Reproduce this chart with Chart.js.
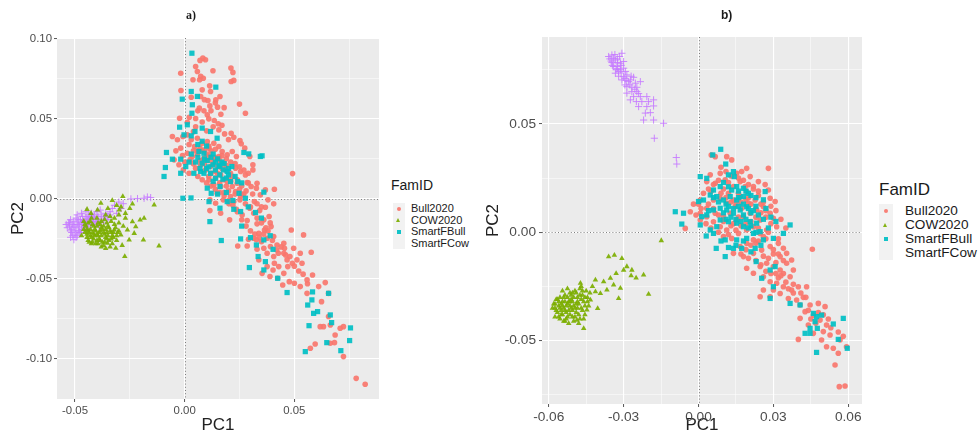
<!DOCTYPE html>
<html>
<head>
<meta charset="utf-8">
<script src="https://cdn.jsdelivr.net/npm/chart.js@4.4.1/dist/chart.umd.min.js"></script>
<style>
  html, body { margin: 0; padding: 0; background: #fff; }
  body { width: 979px; height: 434px; position: relative; overflow: hidden; font-family: "Liberation Sans", Arial, sans-serif; color: #1a1a1a; }
  canvas { position: absolute; top: 0; }
  .abs { position: absolute; white-space: nowrap; line-height: 1; }
  .keybg { position: absolute; background: #f2f2f2; }
  .dot { position: absolute; border-radius: 50%; }
  .sq { position: absolute; }
  .tri { position: absolute; width: 0; height: 0; border-left: 2.6px solid transparent; border-right: 2.6px solid transparent; }
</style>
</head>
<body>
<canvas id="chartA" width="385" height="434" style="left:0"></canvas>
<canvas id="chartB" width="390" height="434" style="left:480px"></canvas>

<div class="abs" style="left:186px; top:8px; font: bold 12px 'Liberation Serif', serif;">a)</div>
<div class="abs" style="left:721px; top:9px; font-weight: bold; font-size: 12px;">b)</div>

<div id="legendA"></div>
<div id="legendB"></div>

<script>
// ---- data ----
const famIds = ["Bull2020", "COW2020", "SmartFBull", "SmartFCow"];

// panel a) : [PC1, PC2]
const aBull = [[.0070,.0865],[.0083,.0879],[.0095,.0869],[.0050,.0827],[.0058,.0796],[.0073,.0765],[.0085,.0754],[.0068,.0744],[.0129,.0800],[.0211,.0817],[.0220,.0790],[.0212,.0733],[.0224,.0740],[-.0018,.0785],[.0038,.0744],[.0080,.0681],[.0114,.0706],[-.0017,.0677],[.0118,.0671],[.0030,.0635],[.0073,.0640],[.0161,.0640],[.0142,.0619],[.0250,.0592],[.0277,.0535],[.0106,.0615],[.0115,.0581],[.0067,.0567],[.0088,.0550],[.0150,.0573],[.0165,.0529],[.0103,.0525],[.0135,.0490],[.0021,.0510],[.0050,.0502],[-.0023,.0504],[.0012,.0479],[.0100,.0425],[.0153,.0469],[.0156,.0431],[.0212,.0410],[.0224,.0385],[.0182,.0406],[.0252,.0365],[.0258,.0344],[.0274,.0317],[-.0056,.0390],[-.0033,.0369],[-.0008,.0390],[.0012,.0400],[.0030,.0369],[.0058,.0379],[.0080,.0348],[.0103,.0358],[.0133,.0348],[.0045,.0327],[.0070,.0317],[.0091,.0306],[.0111,.0317],[.0156,.0327],[.0171,.0296],[.0194,.0275],[.0217,.0296],[.0236,.0265],[-.0018,.0317],[.0012,.0285],[.0035,.0265],[.0058,.0281],[.0088,.0254],[.0111,.0269],[.0133,.0244],[.0156,.0265],[.0179,.0223],[-.0048,.0244],[-.0026,.0213],[-.0006,.0181],[.0020,.0160],[.0050,.0192],[.0073,.0213],[.0095,.0181],[.0118,.0202],[.0141,.0171],[.0164,.0150],[.0186,.0181],[.0209,.0160],[.0232,.0192],[.0255,.0171],[.0277,.0150],[.0311,.0213],[.0297,.0265],[.0311,.0181],[.0492,.0158],[.0330,.0098],[.0327,.0067],[.0368,.0056],[.0409,.0060],[.0345,.0025],[.0285,.0102],[.0303,.0077],[.0111,.0119],[.0133,.0088],[.0164,.0077],[.0194,.0108],[.0217,.0077],[.0239,.0098],[.0148,.0035],[.0179,.0040],[.0209,.0015],[.0232,.0046],[.0255,.0015],[.0115,-.0006],[.0141,-.0027],[.0176,-.0006],[.0202,-.0031],[.0224,-.0017],[.0252,-.0006],[.0277,-.0031],[.0297,-.0058],[.0318,-.0017],[.0380,-.0006],[.0406,-.0031],[.0115,-.0073],[.0164,-.0090],[.0205,-.0131],[.0236,-.0065],[.0262,-.0100],[.0285,-.0135],[.0315,-.0090],[.0342,-.0073],[.0368,-.0052],[.0385,-.0110],[.0361,-.0131],[.0330,-.0156],[.0394,-.0173],[.0364,-.0194],[.0338,-.0215],[.0315,-.0246],[.0285,-.0294],[.0242,-.0294],[.0291,-.0252],[.0327,-.0256],[.0350,-.0267],[.0376,-.0246],[.0406,-.0235],[.0421,-.0288],[.0391,-.0298],[.0361,-.0308],[.0330,-.0315],[.0376,-.0340],[.0406,-.0360],[.0427,-.0340],[.0452,-.0277],[.0455,-.0308],[.0452,-.0340],[.0486,-.0194],[.0542,-.0225],[.0497,-.0308],[.0527,-.0340],[.0577,-.0333],[.0467,-.0381],[.0491,-.0402],[.0512,-.0381],[.0535,-.0402],[.0409,-.0402],[.0376,-.0423],[.0403,-.0444],[.0429,-.0423],[.0452,-.0465],[.0470,-.0423],[.0353,-.0465],[.0389,-.0485],[.0424,-.0496],[.0447,-.0538],[.0477,-.0517],[.0500,-.0527],[.0527,-.0548],[.0558,-.0506],[.0583,-.0475],[.0641,-.0523],[.0611,-.0548],[.0624,-.0642],[.0656,-.0590],[.0558,-.0590],[.0656,-.0735],[.0618,-.0798],[.0633,-.0798],[.0664,-.0788],[.0709,-.0808],[.0724,-.0798],[.0686,-.0850],[.0664,-.0902],[.0683,-.0898],[.0595,-.0906],[.0573,-.0933],[.0724,-.0985],[.0782,-.1121],[.0823,-.1158],[.0338,-.0381],[.0100,.0280],[.0120,.0300],[.0140,.0260],[.0160,.0240],[.0130,.0220],[.0150,.0200],[.0170,.0190],[.0190,.0210],[.0110,.0240],[.0090,.0220],[.0070,.0240],[.0060,.0300],[.0040,.0220],[.0025,.0245],[.0180,.0120],[.0200,.0130],[.0220,.0140],[.0240,.0120],[.0260,.0080],[.0280,.0050],[.0200,.0050],[.0160,.0100],[.0140,.0130],[.0120,.0160],[.0230,.0030],[.0260,.0030],
    [.0020,.0340],[.0040,.0300],[.0080,.0300],[.0110,.0330],[.0140,.0310],[.0170,.0270],[.0190,.0250],[.0210,.0230],[.0230,.0220],[.0250,.0200],[.0270,.0180],[.0290,.0160],[.0060,.0140],[.0080,.0120],[.0100,.0100],[.0120,.0080],[.0140,.0060],[.0160,.0040],[.0180,.0020],[.0200,-.0010],[.0220,-.0040],[.0240,-.0080],[.0260,-.0130],[.0280,-.0170],[.0300,-.0200],[.0320,-.0220],[.0340,-.0240],[.0360,-.0220],[.0380,-.0200],[.0400,-.0260],[.0420,-.0320],[.0440,-.0300],[.0460,-.0350],[.0480,-.0360],[.0500,-.0420],[.0520,-.0450],[.0540,-.0470],[.0560,-.0530],[.0300,-.0050],[.0330,-.0030],[.0350,-.0050],[.0310,.0030],[.0290,.0100],[.0050,.0450],[.0080,.0480],[.0110,.0500],[.0130,.0450],[.0170,.0460],[.0200,.0370],[.0060,.0550],[.0120,.0550],[.0140,.0600],[.0090,.0620],[.0180,.0570],[.0040,.0420],[-.0010,.0270],[-.0040,.0300],[.0000,.0230],[.0150,.0160],[.0110,.0140],[.0190,.0080],[.0210,.0110],[.0250,.0060],[.0270,.0030],[.0330,-.0120],[.0350,-.0150],[.0370,-.0180],[.0390,-.0150]];
const aCow = [[-.0282,.0015],[-.0330,-.0010],[-.0238,-.0031],[-.0139,-.0038],[-.0298,-.0069],[-.0185,-.0121],[-.0203,-.0131],[-.0238,-.0142],[-.0117,-.0294],[-.0188,-.0256],[-.0273,-.0360],[-.0314,-.0308],[-.0352,-.0277],[-.0230,-.0215],[-.0223,-.0173],[-.0261,-.0194],[-.0291,-.0225],[-.0321,-.0194],[-.0253,-.0256],[-.0445,-.0065],[-.0427,-.0090],[-.0382,-.0027],[-.0397,-.0069],[-.0300,-.0150],[-.0270,-.0120],[-.0310,-.0260],[-.0285,-.0290],[-.0340,-.0300],[-.0360,-.0310],[-.0380,-.0300],[-.0460,-.0140],[-.0450,-.0170],[-.0440,-.0200],[-.0430,-.0230],[-.0420,-.0160],[-.0410,-.0190],[-.0400,-.0220],[-.0390,-.0250],[-.0380,-.0180],[-.0370,-.0210],[-.0360,-.0240],[-.0350,-.0170],[-.0340,-.0200],[-.0330,-.0230],[-.0320,-.0160],[-.0455,-.0210],[-.0445,-.0240],[-.0435,-.0270],[-.0425,-.0120],[-.0415,-.0250],[-.0405,-.0280],[-.0395,-.0150],[-.0385,-.0200],[-.0375,-.0270],[-.0365,-.0130],[-.0355,-.0210],[-.0345,-.0260],[-.0335,-.0140],[-.0325,-.0210],[-.0315,-.0180],[-.0420,-.0210],[-.0400,-.0170],[-.0380,-.0230],[-.0360,-.0190],[-.0430,-.0190],[-.0410,-.0230],[-.0390,-.0210],[-.0370,-.0170],[-.0350,-.0230],[-.0440,-.0150],[-.0400,-.0260],[-.0460,-.0190],[-.0470,-.0230],[-.0380,-.0140],[-.0340,-.0110],[-.0360,-.0100],[-.0320,-.0120],[-.0300,-.0100],[-.0310,-.0040],[-.0350,-.0060],[-.0290,-.0050],[-.0270,-.0090],[-.0250,-.0060],[-.0420,-.0270],[-.0440,-.0260],[-.0370,-.0290],[-.0330,-.0280],[-.0310,-.0230],[-.0300,-.0200],[-.0280,-.0170],
    [-.0455,-.0160],[-.0445,-.0190],[-.0435,-.0210],[-.0425,-.0240],[-.0415,-.0170],[-.0405,-.0200],[-.0395,-.0230],[-.0385,-.0260],[-.0375,-.0190],[-.0365,-.0220],[-.0355,-.0250],[-.0345,-.0180],[-.0335,-.0210],[-.0325,-.0240],[-.0425,-.0280],[-.0395,-.0280],[-.0365,-.0270],[-.0335,-.0250],[-.0305,-.0210],[-.0445,-.0220],[-.0415,-.0220],[-.0385,-.0160],[-.0355,-.0150],[-.0430,-.0140],[-.0400,-.0120]];
const aSmartBull = [[.0033,.0910],[.0030,.0671],[-.0011,.0623],[.0035,.0588],[.0058,.0640],[.0142,.0698],[.0033,.0535],[-.0023,.0448],[.0012,.0463],[.0080,.0442],[-.0003,.0400],[.0030,.0394],[.0047,.0421],[.0118,.0421],[.0148,.0379],[-.0083,.0290],[-.0056,.0248],[-.0088,.0196],[-.0094,.0140],[-.0018,.0248],[.0005,.0202],[-.0018,.0160],[.0065,.0296],[.0088,.0285],[.0080,.0223],[.0103,.0240],[.0129,.0213],[.0156,.0202],[.0176,.0181],[.0194,.0171],[.0215,.0202],[.0118,.0160],[.0088,.0160],[.0141,.0129],[.0174,.0123],[.0209,.0108],[.0242,.0108],[.0270,.0290],[.0292,.0281],[.0345,.0265],[.0353,.0269],[.0042,.0160],[.0073,.0171],[-.0008,.0004],[.0029,.0006],[.0103,.0067],[.0121,.0035],[.0161,.0077],[.0111,-.0017],[.0161,-.0058],[.0194,-.0017],[.0224,-.0065],[.0255,-.0079],[.0277,.0004],[.0248,.0035],[.0361,.0042],[.0323,-.0085],[.0115,-.0142],[.0167,-.0260],[.0255,-.0250],[.0300,-.0242],[.0327,-.0288],[.0361,-.0256],[.0335,-.0360],[.0368,-.0392],[.0295,-.0429],[.0403,-.0315],[.0361,-.0444],[.0424,-.0496],[.0467,-.0585],[.0583,-.0581],[.0561,-.0663],[.0580,-.0631],[.0588,-.0715],[.0606,-.0704],[.0656,-.0590],[.0664,-.0725],[.0567,-.0792],[.0670,-.0773],[.0756,-.0806],[.0752,-.0885],[.0648,-.0898],[.0550,-.0954],[.0712,-.0948],[.0150,.0250],[.0170,.0230],[.0130,.0280],[.0100,.0190],[.0200,.0150],[.0060,.0260],
    [.0120,.0260],[.0140,.0230],[.0160,.0210],[.0180,.0220],[.0200,.0190],[.0110,.0200],[.0090,.0250],[.0070,.0190],[.0050,.0230],[.0030,.0280],[.0020,.0230],[.0160,.0150],[.0130,.0110],[.0190,.0130],[.0230,.0140],[.0260,.0100],[.0140,.0180],[.0080,.0360],[.0100,.0330],[.0060,.0340],[.0150,.0030],[.0190,.0040],[.0220,-.0010],[.0290,-.0050],[.0350,-.0120],[.0390,-.0230],[.0260,-.0170]];
const aSmartCow = [[-.0530,-.0150],[-.0525,-.0170],[-.0520,-.0130],[-.0515,-.0190],[-.0510,-.0160],[-.0505,-.0140],[-.0500,-.0180],[-.0495,-.0120],[-.0490,-.0150],[-.0485,-.0200],[-.0480,-.0170],[-.0475,-.0130],[-.0470,-.0150],[-.0465,-.0110],[-.0460,-.0180],[-.0455,-.0140],[-.0450,-.0120],[-.0445,-.0160],[-.0440,-.0100],[-.0435,-.0130],[-.0430,-.0150],[-.0425,-.0090],[-.0420,-.0120],[-.0415,-.0140],[-.0410,-.0100],[-.0405,-.0130],[-.0400,-.0080],[-.0395,-.0110],[-.0390,-.0140],[-.0385,-.0070],[-.0380,-.0100],[-.0370,-.0120],[-.0360,-.0090],[-.0350,-.0110],[-.0340,-.0080],[-.0500,-.0220],[-.0495,-.0240],[-.0480,-.0210],[-.0520,-.0200],[-.0510,-.0230],[-.0470,-.0190],[-.0460,-.0160],[-.0450,-.0190],[-.0440,-.0170],[-.0430,-.0120],[-.0410,-.0160],[-.0390,-.0170],[-.0370,-.0150],[-.0350,-.0130],[-.0330,-.0060],[-.0320,-.0040],[-.0300,-.0020],[-.0290,-.0060],[-.0245,.0000],[-.0215,.0002],[-.0185,.0004],[-.0170,.0012],[-.0155,.0008],[-.0310,-.0090],[-.0280,-.0030],[-.0490,-.0100],[-.0470,-.0090],[-.0450,-.0080],[-.0505,-.0255],[-.0485,-.0130],
    [-.0535,-.0180],[-.0525,-.0150],[-.0515,-.0210],[-.0505,-.0170],[-.0495,-.0200],[-.0485,-.0160],[-.0475,-.0210],[-.0465,-.0140],[-.0455,-.0170],[-.0445,-.0130],[-.0435,-.0110],[-.0425,-.0160],[-.0415,-.0120],[-.0400,-.0150],[-.0380,-.0130],[-.0360,-.0110],[-.0340,-.0100],[-.0520,-.0240],[-.0490,-.0230],[-.0540,-.0160]];

// panel b) : [PC1, PC2]
const bBull = [[.0051,.0357],[.0067,.0349],[.0113,.0349],[.0133,.0334],[.0193,.0295],[.0280,.0295],[.0173,.0280],[.0153,.0272],[.0047,.0265],[.0087,.0272],[.0033,.0234],[.0067,.0226],[.0107,.0242],[.0207,.0257],[.0240,.0234],[.0267,.0220],[.0280,.0195],[.0287,.0157],[.0307,.0142],[.0220,.0211],[.0193,.0188],[.0167,.0165],[.0140,.0149],[.0113,.0134],[.0087,.0157],[.0060,.0149],[.0033,.0111],[.0007,.0088],[-.0033,.0095],[-.0053,.0018],[.0007,.0149],[.0067,.0088],[.0100,.0072],[.0127,.0088],[.0153,.0057],[.0180,.0072],[.0207,.0088],[.0233,.0103],[.0260,.0118],[.0287,.0088],[.0300,.0065],[.0313,.0026],[.0273,.0011],[.0247,-.0005],[.0220,-.0035],[.0193,-.0051],[.0167,-.0066],[.0140,-.0097],[.0180,-.0112],[.0220,-.0097],[.0253,-.0082],[.0287,-.0066],[.0320,-.0051],[.0340,-.0074],[.0327,-.0112],[.0353,-.0143],[.0380,-.0174],[.0367,-.0205],[.0327,-.0174],[.0300,-.0158],[.0273,-.0143],[.0247,-.0158],[.0193,-.0166],[.0220,-.0189],[.0260,-.0205],[.0287,-.0228],[.0313,-.0235],[.0340,-.0251],[.0373,-.0266],[.0400,-.0251],[.0433,-.0251],[.0300,-.0266],[.0327,-.0282],[.0360,-.0305],[.0393,-.0312],[.0260,-.0266],[.0287,-.0297],[.0247,-.0297],[.0407,-.0335],[.0447,-.0335],[.0480,-.0328],[.0507,-.0343],[.0427,-.0366],[.0460,-.0382],[.0487,-.0405],[.0513,-.0428],[.0407,-.0397],[.0440,-.0428],[.0400,-.0494],[.0460,-.0466],[.0500,-.0458],[.0527,-.0474],[.0493,-.0497],[.0513,-.0528],[.0540,-.0535],[.0567,-.0497],[.0593,-.0528],[.0560,-.0558],[.0547,-.0612],[.0564,-.0712],[.0587,-.0709],[.0456,-.0078],[.0353,-.0097],[.0373,-.0128],[.0187,.0211],[.0167,.0234],[.0140,.0211],[.0120,.0180],[.0147,.0118],[.0173,.0111],[.0200,.0134],[.0227,.0149],[.0247,.0057],[.0220,.0026],[.0193,.0011],[.0160,-.0005],[.0133,-.0028],[.0113,.0011],[.0087,.0026],[.0060,.0049],[.0033,.0072],[.0007,.0057],[.0100,.0200],[.0120,.0230],[.0160,.0180],[.0200,.0160],[.0240,.0170],[.0260,.0140],[.0210,.0050],[.0240,.0020],[.0270,-.0030],[.0300,-.0100],[.0230,-.0050],[.0260,-.0110],[.0330,-.0200],[.0350,-.0230],[.0310,-.0190],[.0270,-.0180],[.0420,-.0300],[.0380,-.0280],[.0450,-.0400],[.0470,-.0420],[.0000,.0130],[.0020,.0180],[-.0020,.0130],[.0050,.0190],
    [.0090,.0300],[.0110,.0280],[.0130,.0260],[.0160,.0250],[.0180,.0240],[.0200,.0220],[.0220,.0200],[.0240,.0190],[.0080,.0240],[.0060,.0220],[.0040,.0200],[.0090,.0180],[.0110,.0160],[.0130,.0140],[.0150,.0130],[.0170,.0140],[.0190,.0150],[.0210,.0130],[.0230,.0110],[.0250,.0090],[.0270,.0070],[.0290,.0040],[.0280,.0000],[.0260,-.0020],[.0240,-.0040],[.0210,-.0060],[.0190,-.0080],[.0170,-.0100],[.0200,-.0120],[.0230,-.0130],[.0250,-.0150],[.0280,-.0120],[.0300,-.0080],[.0320,-.0100],[.0340,-.0130],[.0310,-.0140],[.0290,-.0190],[.0320,-.0210],[.0340,-.0190],[.0360,-.0260],[.0380,-.0240],[.0410,-.0280],[.0430,-.0300],[.0440,-.0360],[.0480,-.0370],[.0500,-.0380],[.0520,-.0400],[.0530,-.0440],[.0560,-.0460],[.0580,-.0480],[.0100,.0050],[.0130,.0030],[.0150,.0010],[.0170,.0030],[.0160,.0070],[.0140,.0040],[.0120,-.0010],[.0100,-.0020],[.0080,.0000],[.0050,.0020],[.0030,.0040],[.0010,.0110],[-.0010,.0080],[.0040,.0130],[.0060,.0110],[.0080,.0080],[.0190,.0040],[.0230,.0070],[.0270,.0100],[.0250,.0130],[.0290,.0120],[.0310,.0100],[.0330,.0060],[.0350,.0020],[.0320,-.0030]];
const bCow = [[-.0473,-.0235],[-.0413,-.0220],[-.0360,-.0112],[-.0337,-.0105],[-.0307,-.0120],[-.0287,-.0158],[-.0267,-.0174],[-.0300,-.0174],[-.0220,-.0197],[-.0200,-.0285],[-.0313,-.0258],[-.0353,-.0212],[-.0367,-.0266],[-.0393,-.0282],[-.0340,-.0243],[-.0320,-.0305],[-.0404,-.0351],[-.0460,-.0443],[-.0487,-.0405],[-.0447,-.0358],[-.0149,-.0038],[-.0433,-.0312],[-.0413,-.0274],[-.0380,-.0228],[-.0270,-.0200],[-.0250,-.0210],[-.0330,-.0190],[-.0580,-.0330],[-.0575,-.0350],[-.0570,-.0310],[-.0565,-.0370],[-.0560,-.0340],[-.0555,-.0300],[-.0550,-.0380],[-.0545,-.0320],[-.0540,-.0350],[-.0535,-.0290],[-.0530,-.0400],[-.0525,-.0330],[-.0520,-.0360],[-.0515,-.0280],[-.0510,-.0310],[-.0505,-.0390],[-.0500,-.0340],[-.0495,-.0270],[-.0490,-.0370],[-.0485,-.0300],[-.0480,-.0330],[-.0475,-.0260],[-.0470,-.0350],[-.0465,-.0290],[-.0460,-.0320],[-.0455,-.0380],[-.0450,-.0270],[-.0445,-.0300],[-.0440,-.0340],[-.0560,-.0390],[-.0550,-.0360],[-.0540,-.0410],[-.0530,-.0340],[-.0520,-.0320],[-.0510,-.0350],[-.0500,-.0300],[-.0490,-.0330],[-.0480,-.0380],[-.0470,-.0310],[-.0530,-.0370],[-.0550,-.0330],[-.0570,-.0360],[-.0520,-.0420],[-.0500,-.0410],[-.0480,-.0420],[-.0460,-.0400],[-.0510,-.0290],[-.0490,-.0280],[-.0470,-.0250],[-.0540,-.0300],[-.0560,-.0320],[-.0575,-.0390],[-.0585,-.0350],[-.0545,-.0270],[-.0525,-.0300],[-.0505,-.0360],[-.0485,-.0350],[-.0465,-.0360],[-.0515,-.0380],[-.0535,-.0320],
    [-.0575,-.0330],[-.0565,-.0310],[-.0555,-.0350],[-.0545,-.0380],[-.0535,-.0360],[-.0525,-.0390],[-.0515,-.0340],[-.0505,-.0320],[-.0495,-.0350],[-.0485,-.0320],[-.0475,-.0290],[-.0465,-.0270],[-.0455,-.0300],[-.0445,-.0320],[-.0555,-.0400],[-.0545,-.0340],[-.0535,-.0410],[-.0525,-.0260],[-.0515,-.0320],[-.0505,-.0280],[-.0495,-.0390],[-.0475,-.0400],[-.0455,-.0340],[-.0435,-.0280],[-.0425,-.0250]];
const bSmartBull = [[.0089,.0383],[.0057,.0357],[.0109,.0315],[.0140,.0280],[.0143,.0257],[.0007,.0257],[.0033,.0249],[.0120,.0265],[.0153,.0211],[.0180,.0203],[.0133,.0195],[.0087,.0211],[.0060,.0195],[.0047,.0172],[.0020,.0149],[.0000,.0142],[.0073,.0165],[.0100,.0149],[.0127,.0165],[.0153,.0149],[.0180,.0165],[.0200,.0180],[.0267,.0188],[.0193,.0118],[.0167,.0103],[.0140,.0088],[.0113,.0103],[.0087,.0111],[.0060,.0103],[.0033,.0080],[.0013,.0072],[.0087,.0057],[.0120,.0049],[.0153,.0042],[.0180,.0026],[.0207,.0049],[.0233,.0042],[.0247,.0003],[.0220,-.0005],[.0193,-.0028],[.0227,-.0074],[.0260,-.0035],[.0300,-.0028],[.0340,-.0005],[.0367,.0034],[-.0093,.0095],[-.0060,.0088],[-.0067,.0038],[.0031,-.0017],[.0047,.0011],[.0073,.0026],[.0071,-.0074],[.0107,-.0112],[.0140,-.0074],[.0173,-.0074],[.0231,-.0135],[.0253,-.0212],[.0287,-.0174],[.0300,-.0251],[.0287,-.0305],[.0307,-.0158],[.0367,-.0328],[.0407,-.0335],[.0460,-.0374],[.0473,-.0389],[.0493,-.0382],[.0467,-.0412],[.0447,-.0443],[.0427,-.0466],[.0447,-.0466],[.0476,-.0443],[.0580,-.0397],[.0540,-.0423],[.0560,-.0494],[.0473,-.0554],[.0596,-.0535],[.0007,.0034],[.0060,-.0005],[.0107,-.0035],[.0153,-.0035],[.0110,.0130],[.0160,.0120],[.0180,.0080],[.0210,.0090],[.0130,.0070],[.0200,.0020],[.0230,.0120],
    [.0100,.0230],[.0120,.0210],[.0160,.0190],[.0180,.0130],[.0200,.0110],[.0220,.0100],[.0240,.0080],[.0260,.0060],[.0280,.0020],[.0140,.0110],[.0120,.0120],[.0100,.0090],[.0080,.0140],[.0060,.0160],[.0040,.0100],[.0150,.0060],[.0170,.0050],[.0190,.0060],[.0210,.0030],[.0230,.0000],[.0250,-.0060],[.0210,-.0090],[.0180,-.0040],[.0150,-.0060],[.0120,-.0070],[.0090,-.0040],[.0160,.0160],[.0190,.0190],[.0210,.0170],[.0230,.0160],[.0260,.0150],[.0270,.0110],[.0290,.0070],[.0310,.0050],[.0110,.0060]];
const bSmartCow = [[-.0360,.0811],[-.0347,.0818],[-.0307,.0826],[-.0333,.0795],[-.0313,.0780],[-.0327,.0765],[-.0300,.0757],[-.0320,.0742],[-.0287,.0726],[-.0307,.0703],[-.0273,.0703],[-.0253,.0688],[-.0233,.0695],[-.0287,.0672],[-.0267,.0649],[-.0247,.0649],[-.0260,.0626],[-.0233,.0626],[-.0207,.0626],[-.0227,.0603],[-.0200,.0603],[-.0180,.0611],[-.0240,.0580],[-.0207,.0580],[-.0180,.0583],[-.0193,.0552],[-.0220,.0518],[-.0180,.0518],[-.0140,.0503],[-.0177,.0434],[-.0089,.0345],[-.0087,.0315],[-.0340,.0803],[-.0324,.0783],[-.0340,.0765],[-.0313,.0750],[-.0293,.0742],[-.0333,.0734],[-.0300,.0718],[-.0280,.0695],[-.0267,.0669],[-.0287,.0642],[-.0247,.0669],[-.0347,.0783],[-.0316,.0811],[-.0300,.0788],[-.0260,.0715],[-.0273,.0611],[-.0249,.0603],[-.0213,.0550],[-.0320,.0720],[-.0295,.0680],[-.0350,.0790],
    [-.0355,.0800],[-.0335,.0820],[-.0325,.0800],[-.0345,.0770],[-.0325,.0755],[-.0310,.0735],[-.0295,.0710],[-.0275,.0680],[-.0255,.0660],[-.0240,.0640],[-.0310,.0770],[-.0330,.0750],[-.0290,.0700],[-.0270,.0720]];

// axis limits and grid lines (major + minor)
const aXRange = [-0.0582, 0.0886];
const aYRange = [-0.125, 0.1005];
const aXTicks = [-0.05, -0.025, 0, 0.025, 0.05, 0.075];
const aYTicks = [-0.1, -0.075, -0.05, -0.025, 0, 0.025, 0.05, 0.075, 0.1];
const bXRange = [-0.0627, 0.0655];
const bYRange = [-0.0792, 0.0901];
const bXTicks = [-0.06, -0.045, -0.03, -0.015, 0, 0.015, 0.03, 0.045, 0.06];
const bYTicks = [-0.075, -0.05, -0.025, 0, 0.025, 0.05, 0.075];

// ggplot default hues
const famStyle = {
    Bull2020:   { color: "rgba(248,118,109,0.92)", pointStyle: "circle",   radius: 2.8, order: 2 },
    COW2020:    { color: "rgba(124,174,0,0.92)",   pointStyle: "triangle", radius: 3.2, order: 3 },
    SmartFBull: { color: "rgba(0,191,196,0.92)",   pointStyle: "rect",     radius: 3.7, order: 1 },
    SmartFCow:  { color: "rgba(199,124,255,0.9)",  pointStyle: "cross",    radius: 3.6, order: 4 },
};

const isMajor = (v, step) => Math.abs(v / step - Math.round(v / step)) < 1e-6;

// grey panel background
const panelBg = {
    id: "panelBg",
    beforeDraw(chart) {
        const { ctx, chartArea: a } = chart;
        ctx.save();
        ctx.fillStyle = "#ebebeb";
        ctx.fillRect(a.left, a.top, a.width, a.height);
        ctx.restore();
    }
};

// dotted lines through the origin
const zeroLines = {
    id: "zeroLines",
    beforeDatasetsDraw(chart) {
        const { ctx, chartArea: a, scales } = chart;
        const px = Math.round(scales.x.getPixelForValue(0)) + 0.5;
        const py = Math.round(scales.y.getPixelForValue(0)) + 0.5;
        ctx.save();
        ctx.strokeStyle = "#707070";
        ctx.lineWidth = 0.9;
        ctx.setLineDash([1, 2.2]);
        ctx.beginPath();
        ctx.moveTo(px, a.top); ctx.lineTo(px, a.bottom);
        ctx.moveTo(a.left, py); ctx.lineTo(a.right, py);
        ctx.stroke();
        ctx.restore();
    }
};

function axis(p, which) {
    const isX = which === "x";
    const range = isX ? p.xRange : p.yRange;
    const ticks = isX ? p.xTicks : p.yTicks;
    const step = isX ? p.xMajor : p.yMajor;
    return {
        type: "linear",
        min: range[0],
        max: range[1],
        afterBuildTicks: s => { s.ticks = ticks.map(v => ({ value: v })); },
        afterFit: s => { if (isX) s.height = p.xAxisH; else s.width = p.yAxisW; },
        border: { display: false },
        grid: {
            color: "#ffffff",
            lineWidth: c => isMajor(c.tick.value, step) ? 1.1 : 0.5,
            tickLength: 3,
            tickWidth: 1,
            tickColor: c => isMajor(c.tick.value, step) ? "#555555" : "rgba(0,0,0,0)",
        },
        ticks: {
            autoSkip: false,
            maxRotation: 0,
            padding: isX ? 2 : p.yTickPad,
            color: "#4d4d4d",
            font: { family: "'Liberation Sans', Arial, sans-serif", size: p.tickFont },
            callback: v => isMajor(v, step) ? v.toFixed(2) : "",
        },
        title: {
            display: true,
            text: isX ? "PC1" : "PC2",
            color: "#222222",
            font: { family: "'Liberation Sans', Arial, sans-serif", size: 17, lineHeight: 1 },
            padding: isX ? { top: 0, bottom: 0 } : { top: p.yTitlePad, bottom: 0 },
        },
    };
}

function drawPanel(p) {
    const datasets = famIds.map((id, i) => {
        const s = famStyle[id];
        const isCross = s.pointStyle === "cross";
        return {
            label: id,
            data: p.series[i].map(([x, y]) => ({ x, y })),
            pointStyle: s.pointStyle,
            pointRadius: s.radius,
            backgroundColor: s.color,
            borderColor: s.color,
            borderWidth: isCross ? 1 : 0,
            order: s.order,
        };
    });
    new Chart(document.getElementById(p.canvas), {
        type: "scatter",
        data: { datasets },
        options: {
            responsive: false,
            animation: false,
            devicePixelRatio: 1,
            events: [],
            layout: { autoPadding: false, padding: { left: 0, top: p.padTop, right: p.padRight, bottom: 0 } },
            plugins: { legend: { display: false }, tooltip: { enabled: false } },
            scales: { x: axis(p, "x"), y: axis(p, "y") },
        },
        plugins: [panelBg, zeroLines],
    });
}

drawPanel({
    canvas: "chartA", series: [aBull, aCow, aSmartBull, aSmartCow],
    xRange: aXRange, yRange: aYRange, xTicks: aXTicks, yTicks: aYTicks, xMajor: 0.05, yMajor: 0.05,
    padTop: 38, padRight: 6, yAxisW: 57, xAxisH: 35, tickFont: 11.4, yTickPad: 2, yTitlePad: 9.5,
});
drawPanel({
    canvas: "chartB", series: [bBull, bCow, bSmartBull, bSmartCow],
    xRange: bXRange, yRange: bYRange, xTicks: bXTicks, yTicks: bYTicks, xMajor: 0.03, yMajor: 0.05,
    padTop: 37, padRight: 8, yAxisW: 62, xAxisH: 30, tickFont: 13.7, yTickPad: 3, yTitlePad: 4.5,
});

// legends (ggplot style, right of each panel)
function buildLegend(el, L) {
    let html = `<div class="abs" style="left:${L.left}px; top:${L.titleTop}px; font-size:${L.titleSize}px;">FamID</div>`;
    html += `<div class="keybg" style="left:${L.keyLeft}px; top:${L.keyTop}px; width:${L.keySize}px; height:${L.keySize * famIds.length}px;"></div>`;
    famIds.forEach((id, i) => {
        const cy = L.keyTop + L.keySize * (i + 0.5);
        const cx = L.keyLeft + L.keySize / 2;
        const col = famStyle[id].color;
        if (id === "Bull2020") html += `<div class="dot" style="left:${cx - 2}px; top:${cy - 2}px; width:4px; height:4px; background:${col};"></div>`;
        if (id === "COW2020") html += `<div class="tri" style="left:${cx - 2.6}px; top:${cy - 2.4}px; border-bottom:4.5px solid ${col};"></div>`;
        if (id === "SmartFBull") html += `<div class="sq" style="left:${cx - 2}px; top:${cy - 2}px; width:4px; height:4px; background:${col};"></div>`;
        html += `<div class="abs" style="left:${L.textLeft}px; top:${cy - L.textSize / 2}px; font-size:${L.textSize}px;">${id}</div>`;
    });
    el.innerHTML = html;
}
buildLegend(document.getElementById("legendA"), { left: 391, titleTop: 178, titleSize: 14, keyLeft: 393, keyTop: 203, keySize: 11.5, textLeft: 411, textSize: 11 });
buildLegend(document.getElementById("legendB"), { left: 879, titleTop: 181, titleSize: 17, keyLeft: 879, keyTop: 204, keySize: 14, textLeft: 905, textSize: 13.6 });
</script>
</body>
</html>
